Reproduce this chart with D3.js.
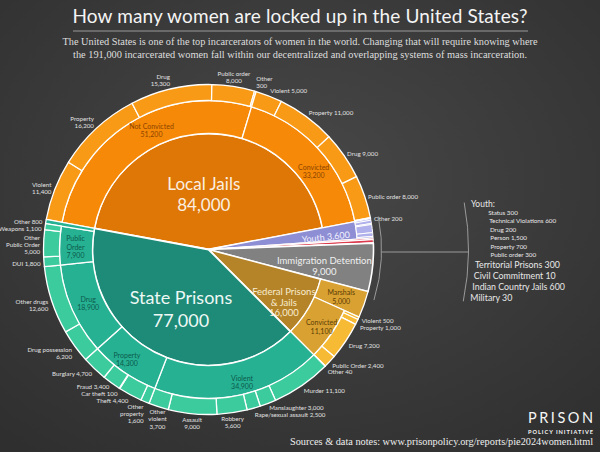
<!DOCTYPE html>
<html>
<head>
<meta charset="utf-8">
<script src="https://cdn.jsdelivr.net/npm/d3@7"></script>
<style>
  html, body { margin: 0; padding: 0; background: #383838; }
  svg { display: block; }
</style>
</head>
<body>
<svg id="chart" width="600" height="452"></svg>
<script>
// systems, clockwise from the left edge of local jails
var systems = ['Local Jails', 'Youth', 'Territorial Prisons', 'Civil Commitment', 'Indian Country Jails', 'Military', 'Immigration Detention', 'Federal Prisons & Jails', 'State Prisons'];
var systemValues = [84000, 3600, 300, 10, 600, 30, 9000, 16000, 77000];

var jailStatus = ['Not Convicted', 'Convicted'];
var jailStatusValues = [51200, 33200];
var jailOffenses = ['Violent', 'Property', 'Drug', 'Public order', 'Other'];
var jailNotConvictedValues = [11400, 16200, 15300, 8000, 300];
var jailConvictedValues = [5000, 11000, 9000, 8000, 200];

var federalStatus = ['Marshals', 'Convicted'];
var federalStatusValues = [5000, 11100];
var federalOffenses = ['Violent', 'Property', 'Drug', 'Public Order', 'Other'];
var federalConvictedValues = [500, 1000, 7200, 2400, 40];

var stateOffenses = ['Violent', 'Property', 'Drug', 'Public\nOrder', 'Other'];
var stateOffenseValues = [34900, 14300, 18900, 7900, 800];
var stateViolent = ['Murder', 'Manslaughter', 'Rape/sexual assault', 'Robbery', 'Assault', 'Other\nviolent'];
var stateViolentValues = [11100, 3000, 2500, 5600, 9000, 3700];
var stateProperty = ['Other\nproperty', 'Theft', 'Car theft', 'Fraud', 'Burglary'];
var statePropertyValues = [1600, 4400, 100, 3400, 4700];
var stateDrug = ['Drug possession', 'Other drugs'];
var stateDrugValues = [6200, 12600];
var statePublicOrder = ['DUI', 'Other\nPublic Order', 'Weapons'];
var statePublicOrderValues = [1800, 5000, 1100];

var youthOffenses = ['Status', 'Technical Violations', 'Drug', 'Person', 'Property', 'Public order'];
var youthOffenseValues = [300, 600, 200, 1500, 700, 300];

// labels whose number sits on its own line
var stackedLabels = ['Robbery', 'Assault', 'Drug possession', 'Other drugs'];

var colors = {
  jail: ['#de7705', '#f68907', '#f89a16'],
  state: ['#1d8b77', '#27b193', '#3ccb9d'],
  federal: ['#b58429', '#d9a131', '#f6ba35'],
  immigration: '#818181',
  youth: ['#8e8ed4', '#b0b0ec'],
  small: ['#e66b7b', '#f2f2f2', '#dc3b4e', '#e66b7b']
};

var svg = d3.select('#chart');
var cx = 208.5, cy = 249.5, r1 = 116, r2 = 149, r3 = 165;
var deg = Math.PI / 180;
var fmt = d3.format(',');
var font = 'Lato, "Open Sans", sans-serif';
var serif = '"Liberation Serif", "DejaVu Serif", serif';

// background
var defs = svg.append('defs');
var bg = defs.append('radialGradient').attr('id', 'bg').attr('cx', '50%').attr('cy', '40%').attr('r', '75%');
bg.append('stop').attr('offset', '0%').attr('stop-color', '#484848');
bg.append('stop').attr('offset', '100%').attr('stop-color', '#2f2f2f');
svg.append('rect').attr('width', 600).attr('height', 452).attr('fill', 'url(#bg)');

// title
svg.append('text')
  .attr('x', 300).attr('y', 23)
  .attr('text-anchor', 'middle')
  .attr('font-family', font).attr('font-size', 19)
  .attr('fill', '#f4f4f4')
  .attr('textLength', 455).attr('lengthAdjust', 'spacing')
  .text('How many women are locked up in the United States?');
svg.append('line')
  .attr('x1', 73).attr('x2', 528).attr('y1', 31).attr('y2', 31)
  .attr('stroke', '#9a9a9a').attr('stroke-width', 1);

var subtitle = [
  'The United States is one of the top incarcerators of women in the world. Changing that will require knowing where',
  'the 191,000 incarcerated women fall within our decentralized and overlapping systems of mass incarceration.'
];
var subWidths = [475, 454];
subtitle.forEach(function(s, i) {
  svg.append('text')
    .attr('x', 300).attr('y', 45 + i * 13)
    .attr('text-anchor', 'middle')
    .attr('font-family', serif).attr('font-size', 11)
    .attr('fill', '#dedede')
    .attr('textLength', subWidths[i]).attr('lengthAdjust', 'spacingAndGlyphs')
    .text(s);
});

var g = svg.append('g').attr('transform', 'translate(' + cx + ',' + cy + ')');
var arc = d3.arc();

function polar(a, r) { return [Math.sin(a) * r, -Math.cos(a) * r]; }

function split(parent, values) {
  var angle = d3.scaleLinear()
    .domain([0, d3.sum(values)])
    .range([parent.startAngle, parent.endAngle]);
  var acc = 0;
  return values.map(function(v) {
    var s = { startAngle: angle(acc), endAngle: angle(acc + v), value: v };
    acc += v;
    return s;
  });
}

function wedge(seg, inner, outer, fill, sw) {
  g.append('path')
    .attr('d', arc({ innerRadius: inner, outerRadius: outer, startAngle: seg.startAngle, endAngle: seg.endAngle }))
    .attr('fill', fill)
    .attr('stroke', '#fff')
    .attr('stroke-width', sw || 1.3)
    .attr('stroke-linejoin', 'round');
}

var pie = d3.pie().sort(null).startAngle(-79.5 * deg).endAngle(280.5 * deg);
var sys = pie(systemValues);
var outerLabels = [];

function addOuter(segs, names) {
  segs.forEach(function(s, i) { outerLabels.push({ seg: s, name: names[i] }); });
}

// local jails
var jail = sys[0];
wedge(jail, 0, r1, colors.jail[0], 1.8);
var jailMid = split(jail, jailStatusValues);
jailMid.forEach(function(s) { wedge(s, r1, r2, colors.jail[1]); });
var jailNC = split(jailMid[0], jailNotConvictedValues);
var jailC = split(jailMid[1], jailConvictedValues);
jailNC.concat(jailC).forEach(function(s) { wedge(s, r2, r3, colors.jail[2]); });
jailNC.forEach(function(s, i) { outerLabels.push({ seg: s, name: jailOffenses[i], stacked: true }); });
addOuter(jailC, jailOffenses);

// youth
var youth = sys[1];
wedge(youth, 0, r2, colors.youth[0]);
split(youth, youthOffenseValues).forEach(function(s) { wedge(s, r2, r3, colors.youth[1], 1); });

// small systems
[2, 3, 4, 5].forEach(function(k, i) { wedge(sys[k], 0, r3, colors.small[i], 1); });

// immigration
wedge(sys[6], 0, r3, colors.immigration, 1.6);

// federal
var fed = sys[7];
wedge(fed, 0, r1, colors.federal[0], 1.6);
var fedMid = split(fed, federalStatusValues);
wedge(fedMid[0], r1, r3, colors.federal[1]);
wedge(fedMid[1], r1, r2, colors.federal[1]);
var fedC = split(fedMid[1], federalConvictedValues);
fedC.forEach(function(s) { wedge(s, r2, r3, colors.federal[2]); });
addOuter(fedC, federalOffenses);

// state
var st = sys[8];
wedge(st, 0, r1, colors.state[0], 1.8);
var stMid = split(st, stateOffenseValues);
stMid.forEach(function(s, i) { wedge(s, r1, i === 4 ? r3 : r2, colors.state[1]); });
var stGroups = [
  [stateViolent, stateViolentValues],
  [stateProperty, statePropertyValues],
  [stateDrug, stateDrugValues],
  [statePublicOrder, statePublicOrderValues]
];
stGroups.forEach(function(grp, i) {
  var segs = split(stMid[i], grp[1]);
  segs.forEach(function(s) { wedge(s, r2, r3, colors.state[2]); });
  addOuter(segs, grp[0]);
});
outerLabels.push({ seg: stMid[4], name: 'Other' });

// outer ring labels
var ofs = 6.2, olh = 7.2;
outerLabels.forEach(function(d) {
  var a = (d.seg.startAngle + d.seg.endAngle) / 2;
  var dd = ((a / deg) % 360 + 360) % 360;
  var p = polar(a, r3 + 3.5);
  d.anchor = (dd > 350 || dd < 12 || (dd > 168 && dd < 200)) ? 'middle' : (dd < 180 ? 'start' : 'end');
  var lines = d.name.split('\n');
  var v = fmt(d.seg.value);
  if (d.stacked || lines.length > 1 || stackedLabels.indexOf(d.name) >= 0) lines.push(v);
  else lines[lines.length - 1] += ' ' + v;
  var c = Math.cos(a);
  d.lines = lines;
  d.x = p[0];
  d.y = p[1] - (lines.length - 1) * olh * (1 + c) / 2 + ofs * 0.35 * (1 - c) + 2 * (1 - c * c);
});

// push apart single-line labels that crowd each other on the same side
['start', 'end'].forEach(function(side) {
  var list = outerLabels.filter(function(d) { return d.anchor === side && d.lines.length === 1; })
    .sort(function(a, b) { return a.y - b.y; });
  for (var it = 0; it < 20; it++) {
    for (var i = 1; i < list.length; i++) {
      var gap = list[i].y - list[i - 1].y;
      if (gap < 6.8 && Math.abs(list[i].x - list[i - 1].x) < 40) {
        var m = (6.8 - gap) / 2;
        list[i].y += m; list[i - 1].y -= m;
      }
    }
  }
});

outerLabels.forEach(function(d) {
  var t = g.append('text')
    .attr('text-anchor', d.anchor)
    .attr('font-family', font).attr('font-size', ofs)
    .attr('fill', '#e2e2e2');
  d.lines.forEach(function(l, i) {
    t.append('tspan').attr('x', d.x).attr('y', d.y + i * olh).text(l);
  });
});

// labels inside the rings
function ringLabel(seg, frac, r, lines, size, color, lh, rotate) {
  var a = seg.startAngle + frac * (seg.endAngle - seg.startAngle);
  var p = polar(a, r);
  var h = lh || size * 1.2;
  var t = g.append('text')
    .attr('text-anchor', 'middle')
    .attr('font-family', font).attr('font-size', size)
    .attr('fill', color);
  if (rotate) t.attr('transform', 'rotate(' + (a / deg - 90) + ',' + p[0] + ',' + p[1] + ')');
  var y0 = p[1] - (lines.length - 1) * h / 2 + size * 0.35;
  lines.forEach(function(l, i) {
    t.append('tspan').attr('x', p[0]).attr('y', y0 + i * h).text(l);
  });
}

ringLabel(jail, 0.47, 55, ['Local Jails', fmt(systemValues[0])], 17, '#fbeee0', 21);
ringLabel(st, 0.479, 66, ['State Prisons', fmt(systemValues[8])], 18, '#eef8f5', 23);
ringLabel(fed, 0.67, 92, ['Federal Prisons', '& Jails', fmt(systemValues[7])], 9.5, '#f8ecd0', 10.5);
ringLabel(sys[6], 0.6, 117, ['Immigration Detention', fmt(systemValues[6])], 9.5, '#f0f0f0', 11);
ringLabel(youth, 0.7, 118, [systems[1] + ' ' + fmt(systemValues[1])], 9, '#f2f2ff', 11, true);

var midJail = '#8d4400', midState = '#0b5a4a', midFed = '#5a3c06';
ringLabel(jailMid[0], 0.56, 132, [jailStatus[0], fmt(jailStatusValues[0])], 7, midJail, 8.5);
ringLabel(jailMid[1], 0.587, 131, [jailStatus[1], fmt(jailStatusValues[1])], 7, midJail, 8.5);
ringLabel(fedMid[0], 0.53, 141, [federalStatus[0], fmt(federalStatusValues[0])], 7, midFed, 8.5);
ringLabel(fedMid[1], 0.49, 137, [federalStatus[1], fmt(federalStatusValues[1])], 7, midFed, 9.5);
var stateFrac = [0.466, 0.57, 0.49, 0.46];
var stateR = [137, 137, 132, 133];
[0, 1, 2, 3].forEach(function(i) {
  var lines = stateOffenses[i].split('\n').concat([fmt(stateOffenseValues[i])]);
  ringLabel(stMid[i], stateFrac[i], stateR[i], lines, 7, midState, 8.5);
});

// brackets pointing to the small systems list
function bracket(r, a0, a1) {
  var p = d3.path();
  p.arc(0, 0, r, a0 - Math.PI / 2, a1 - Math.PI / 2);
  g.append('path').attr('d', p.toString())
    .attr('fill', 'none').attr('stroke', '#9a9a9a').attr('stroke-width', 1);
}
var rb1 = 173, rb2 = 260;
bracket(rb1, 79 * deg, 107 * deg);
bracket(rb2, 79.6 * deg, 101.5 * deg);
g.append('line')
  .attr('x1', Math.sqrt(rb1 * rb1 - 6)).attr('x2', Math.sqrt(rb2 * rb2 - 6))
  .attr('y1', 2.5).attr('y2', 2.5)
  .attr('stroke', '#9a9a9a').attr('stroke-width', 1);

function bracketX(y) { return Math.sqrt(rb2 * rb2 - (y - cy) * (y - cy)) + cx; }

var legend = svg.append('g').attr('font-family', font).attr('fill', '#e8e8e8');
legend.append('text').attr('x', bracketX(207) + 6).attr('y', 207).attr('font-size', 8.5).text(systems[1] + ':');
youthOffenses.forEach(function(n, i) {
  var y = 214.5 + i * 8.55;
  legend.append('text').attr('x', bracketX(y) + 22).attr('y', y).attr('font-size', 6.3)
    .text(n + ' ' + fmt(youthOffenseValues[i]));
});
[2, 3, 4, 5].forEach(function(k, i) {
  var y = 267.5 + i * 11.2;
  legend.append('text').attr('x', bracketX(y) + 7).attr('y', y).attr('font-size', 8.8)
    .text(systems[k] + ' ' + fmt(systemValues[k]));
});

// logo and source
svg.append('text')
  .attr('x', 593).attr('y', 423).attr('text-anchor', 'end')
  .attr('font-family', font).attr('font-size', 14.5)
  .attr('fill', '#f6f6f6')
  .attr('textLength', 65).attr('lengthAdjust', 'spacing')
  .text('PRISON');
svg.append('text')
  .attr('x', 593).attr('y', 433.5).attr('text-anchor', 'end')
  .attr('font-family', font).attr('font-size', 5.6).attr('font-weight', 'bold')
  .attr('fill', '#f6f6f6')
  .attr('textLength', 65).attr('lengthAdjust', 'spacing')
  .text('POLICY INITIATIVE');
svg.append('text')
  .attr('x', 593).attr('y', 445).attr('text-anchor', 'end')
  .attr('font-family', serif).attr('font-size', 10.3)
  .attr('fill', '#eeeeee')
  .text('Sources & data notes: www.prisonpolicy.org/reports/pie2024women.html');
</script>
</body>
</html>
